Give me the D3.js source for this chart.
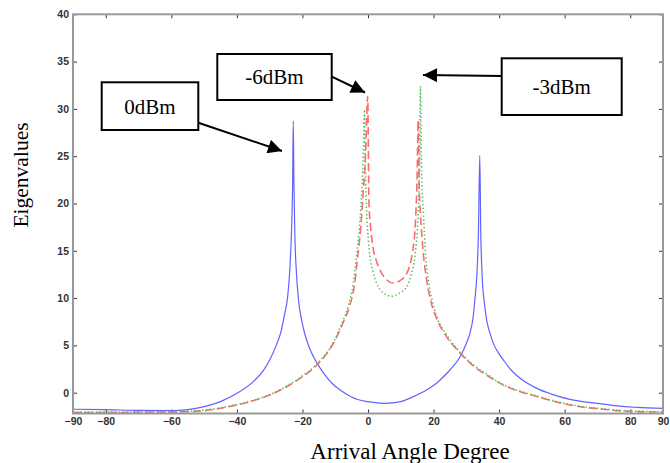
<!DOCTYPE html>
<html>
<head>
<meta charset="utf-8">
<script src="https://cdn.jsdelivr.net/npm/d3@7"></script>
<style>
  html, body { margin: 0; padding: 0; background: #fff; }
  svg { display: block; }
  .tick text { font-family: "Liberation Sans", Arial, sans-serif; font-weight: bold; font-size: 10.5px; fill: #333; }
</style>
</head>
<body>
<svg id="chart" width="670" height="463"></svg>
<script>
// Arrival angle (degrees) and eigenvalue samples for each input power level
const seriesNames = ["0dBm", "-6dBm", "-3dBm"];

const anglesP0 = [-90, -80, -70, -60, -50, -45, -40, -35, -32, -30, -28, -26.5, -25.5, -24.5, -23.8, -23.3, -23, -22.8,
  -22.6, -22.3, -21.8, -21.2, -20.2, -19.2, -17.7, -15.5, -13.6, -11, -8.5, -5, -3.4, 0, 5.2, 10, 13, 16.9, 20, 22, 25,
  28.1, 30, 31.1, 32, 32.6, 33.3, 33.7, 34.1, 34.4, 34.8, 35.5, 36.3, 37.2, 38.5, 40, 41.3, 43.5, 46.4, 51.5, 56, 61.6, 66,
  71.8, 76, 82, 90];
const valuesP0 = [-1.75, -1.78, -1.88, -1.9, -1.48, -0.95, -0.07, 1.17, 2.3, 3.46, 5.0, 6.5, 8.2, 10.2, 13.3, 17.5, 22, 28.7,
  22, 16.5, 12.5, 9.8, 7.6, 6.1, 4.6, 3.1, 2.1, 1.0, 0.29, -0.45, -0.7, -0.95, -1.12, -0.95, -0.55, 0.1, 0.75, 1.34, 2.4,
  3.8, 5.2, 6.3, 7.8, 9.8, 13, 17, 25.1, 17, 12.5, 9.5, 7.5, 6.3, 5.0, 4.1, 3.46, 2.45, 1.52, 0.46, -0.15, -0.7, -0.98,
  -1.2, -1.4, -1.55, -1.65];

const anglesM6 = [-90, -80, -70, -60, -50, -45, -40, -35, -30, -25, -20.7, -15.7, -10.6, -7.6, -5.5, -4.2, -3.1, -2.2, -1.4,
  -0.7, -0.1, 0.3, 0.8, 1.5, 2.5, 3.6, 5.5, 7.7, 10, 11.8, 13, 13.8, 14.3, 14.6, 15, 15.3, 15.6, 16, 16.8, 17.9, 19.3, 21,
  24, 27, 30, 33, 36, 41, 46, 51.5, 56, 61.6, 66, 71.8, 76, 82, 90];
const valuesM6 = [-2.1, -2.1, -2.08, -2.05, -1.9, -1.65, -1.3, -0.85, -0.25, 0.6, 1.52, 2.9, 5.2, 7.4, 9.3, 11.2, 14.5, 17.5, 21.5,
  25.5, 31.3, 20, 17.5, 15.4, 14, 13, 12, 11.6, 11.9, 12.6, 13.8, 15.4, 17, 19, 23, 28.8, 22, 19, 15, 11.9, 9.5, 7.8,
  5.9, 4.6, 3.5, 2.6, 1.9, 0.85, 0.15, -0.4, -0.85, -1.3, -1.55, -1.75, -1.9, -2.0, -2.05];

const anglesM3 = [-90, -80, -70, -60, -50, -45, -40, -35, -30, -25, -20.7, -15.7, -10.6, -8, -6, -4.5, -3.5, -2.6, -1.8, -1.4,
  -1.1, -0.8, -0.4, 0.1, 0.6, 1.5, 2.6, 4.5, 7.2, 9.5, 11.8, 13.2, 14.3, 15, 15.3, 15.7, 16, 16.3, 16.9, 17.6, 18.4, 19.6,
  21, 24, 27, 30, 33, 36, 41, 46, 51.5, 56, 61.6, 66, 71.8, 76, 82, 90];
const valuesM3 = [-2.05, -2.05, -2.03, -2.0, -1.85, -1.6, -1.25, -0.8, -0.2, 0.65, 1.6, 3.0, 5.3, 7.3, 9.2, 11.5, 14.5, 17.5, 22, 25.5,
  29.9, 24, 19, 16.2, 14.4, 12.8, 11.6, 10.6, 10.2, 10.5, 11.2, 12.5, 14.4, 17, 19, 24, 32.4, 24, 19, 14.5, 11.9, 9.7,
  8.0, 6.1, 4.7, 3.6, 2.7, 2.0, 0.9, 0.2, -0.35, -0.8, -1.25, -1.5, -1.7, -1.85, -1.95, -2.0];

const xTickValues = [-90, -80, -60, -40, -20, 0, 20, 40, 60, 80, 90];
const yTickValues = [0, 5, 10, 15, 20, 25, 30, 35, 40];

const xLabel = "Arrival Angle Degree";
const yLabel = "Eigenvalues";

const svg = d3.select("#chart");
const plotLeft = 73, plotRight = 663, plotTop = 14.3, plotBottom = 413.5;

const x = d3.scaleLinear().domain([-90, 90]).range([plotLeft, plotRight]);
const y = d3.scaleLinear().domain([-2.2, 40]).range([plotBottom, plotTop]);

const defs = svg.append("defs");
defs.append("clipPath").attr("id", "plotClip")
  .append("rect").attr("x", plotLeft).attr("y", plotTop)
  .attr("width", plotRight - plotLeft).attr("height", plotBottom - plotTop);

// Axes with inward ticks on all four sides
const axisColor = "#333";
function styleAxis(g) {
  g.select(".domain").remove();
  g.selectAll(".tick line").attr("stroke", axisColor).attr("stroke-width", 1);
}
svg.append("g").attr("transform", `translate(0,${plotBottom})`)
  .call(d3.axisBottom(x).tickValues(xTickValues).tickSizeInner(-4).tickSizeOuter(0).tickPadding(4).tickFormat(d3.format("d")))
  .call(styleAxis);
svg.append("g").attr("transform", `translate(0,${plotTop})`)
  .call(d3.axisTop(x).tickValues(xTickValues).tickSizeInner(-4).tickSizeOuter(0).tickFormat(""))
  .call(styleAxis);
svg.append("g").attr("transform", `translate(${plotLeft},0)`)
  .call(d3.axisLeft(y).tickValues(yTickValues).tickSizeInner(-4).tickSizeOuter(0).tickPadding(4).tickFormat(d3.format("d")))
  .call(styleAxis);
svg.append("g").attr("transform", `translate(${plotRight},0)`)
  .call(d3.axisRight(y).tickValues(yTickValues).tickSizeInner(-4).tickSizeOuter(0).tickFormat(""))
  .call(styleAxis);

// Curves
const line = d3.line().x(d => x(d[0])).y(d => y(d[1])).curve(d3.curveMonotoneX);
const series = [
  { angles: anglesP0, values: valuesP0, color: "#6262ff", width: 1.2, dash: null },
  { angles: anglesM6, values: valuesM6, color: "#ff6a6a", width: 1.6, dash: "8,4" },
  { angles: anglesM3, values: valuesM3, color: "#5cbc5c", width: 1.6, dash: "1.4,2.4" }
];
const plot = svg.append("g").attr("clip-path", "url(#plotClip)");
series.forEach(s => {
  plot.append("path")
    .datum(d3.zip(s.angles, s.values))
    .attr("d", line)
    .attr("fill", "none")
    .attr("stroke", s.color)
    .attr("stroke-width", s.width)
    .attr("stroke-dasharray", s.dash)
    .attr("stroke-linejoin", "round");
});

// Plot frame
svg.append("rect")
  .attr("x", plotLeft).attr("y", plotTop).attr("width", plotRight - plotLeft).attr("height", plotBottom - plotTop)
  .attr("fill", "none").attr("stroke", "#999").attr("stroke-width", 2);

// Axis titles
svg.append("text")
  .attr("x", 410).attr("y", 459)
  .attr("text-anchor", "middle")
  .attr("font-family", "'Liberation Serif', 'Times New Roman', serif")
  .attr("font-size", 23)
  .text(xLabel);
svg.append("text")
  .attr("transform", "translate(28,175) rotate(-90)")
  .attr("text-anchor", "middle")
  .attr("font-family", "'Liberation Serif', 'Times New Roman', serif")
  .attr("font-size", 21.5)
  .text(yLabel);

// Callout boxes with arrows
defs.append("marker")
  .attr("id", "arrowHead")
  .attr("viewBox", "0 0 10 10")
  .attr("refX", 10).attr("refY", 5)
  .attr("markerUnits", "userSpaceOnUse")
  .attr("markerWidth", 17).attr("markerHeight", 14)
  .attr("orient", "auto")
  .append("path").attr("d", "M0,0 L10,5 L0,10 Z").attr("fill", "#000");

const callouts = [
  { label: seriesNames[0], box: [101.7, 82.3, 96.6, 47.7], from: [198.3, 122.7], to: [282, 151] },
  { label: seriesNames[1], box: [217.3, 54, 114.4, 46], from: [331.7, 76.7], to: [365, 92.5] },
  { label: seriesNames[2], box: [501.7, 58.3, 120, 56.7], from: [501.7, 76], to: [423, 75] }
];
callouts.forEach(c => {
  const [bx, by, bw, bh] = c.box;
  svg.append("rect").attr("x", bx).attr("y", by).attr("width", bw).attr("height", bh)
    .attr("fill", "#fff").attr("stroke", "#000").attr("stroke-width", 2);
  svg.append("text")
    .attr("x", bx + bw / 2).attr("y", by + bh / 2)
    .attr("dy", "0.35em")
    .attr("text-anchor", "middle")
    .attr("font-family", "'Liberation Serif', 'Times New Roman', serif")
    .attr("font-size", 21)
    .text(c.label);
  svg.append("line")
    .attr("x1", c.from[0]).attr("y1", c.from[1]).attr("x2", c.to[0]).attr("y2", c.to[1])
    .attr("stroke", "#000").attr("stroke-width", 2)
    .attr("marker-end", "url(#arrowHead)");
});
</script>
</body>
</html>
